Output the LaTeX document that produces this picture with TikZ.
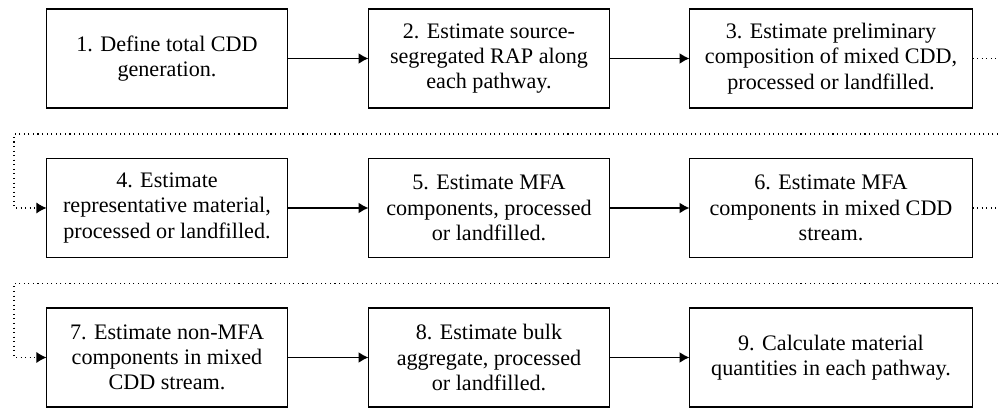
\documentclass[tikz,border=0pt]{standalone}
\usepackage{fontspec}
\setmainfont{Liberation Serif}
\usetikzlibrary{shapes,arrows.meta}
\usetikzlibrary{positioning}

\begin{document}
\begin{tikzpicture}[
    stepbox/.style={draw, line width=1pt, outer sep=0pt, minimum width=4.82cm, minimum height=1.98cm,
        align=center, inner sep=2pt, font=\fontsize{12.6}{14.4}\selectfont},
    widebox/.style={stepbox, minimum width=5.66cm},
    flow/.style={line width=0.9pt, -{Latex[length=2mm,width=2.2mm]}},
    jump/.style={line width=0.6pt, dotted}
    ]
    \useasboundingbox (0,0) rectangle (19.96,-8.18);
    % first row
    \node[stepbox, anchor=north west] (b1) at (0.93,-0.18) {1. Define total CDD\\generation.};
    \node[stepbox, right=1.62cm of b1] (b2) {2. Estimate source-\\segregated RAP along\\each pathway.};
    \node[widebox, right=1.6cm of b2] (b3) {3. Estimate preliminary\\composition of mixed CDD,\\processed or landfilled.};
    % second row
    \node[stepbox, below=1.01cm of b1] (b4) {4. Estimate\\representative material,\\processed or landfilled.};
    \node[stepbox, below=1.01cm of b2] (b5) {5. Estimate MFA\\components, processed\\or landfilled.};
    \node[widebox, below=1.01cm of b3] (b6) {6. Estimate MFA\\components in mixed CDD\\stream.};
    % third row
    \node[stepbox, below=1.01cm of b4] (b7) {7. Estimate non-MFA\\components in mixed\\CDD stream.};
    \node[stepbox, below=1.01cm of b5] (b8) {8. Estimate bulk\\aggregate, processed\\or landfilled.};
    \node[widebox, below=1.01cm of b6] (b9) {9. Calculate material\\quantities in each pathway.};

    \draw[flow] (b1) -- (b2);
    \draw[flow] (b2) -- (b3);
    \draw[flow] (b4) -- (b5);
    \draw[flow] (b5) -- (b6);
    \draw[flow] (b7) -- (b8);
    \draw[flow] (b8) -- (b9);

    % row to row returns
    \coordinate (r1) at (19.96,-2.68);
    \coordinate (l1) at (0.28,-2.68);
    \coordinate (r2) at (19.96,-5.67);
    \coordinate (l2) at (0.28,-5.67);
    \coordinate (s1) at (b3 -| r1);
    \coordinate (s2) at (b6 -| r2);
    \draw[jump] (b3) -- (s1);
    \draw[jump] (b6) -- (s2);
    \draw[jump, -{Latex[length=2mm,width=2.2mm]}] (r1) -- (l1) |- (b4);
    \draw[jump, -{Latex[length=2mm,width=2.2mm]}] (r2) -- (l2) |- (b7);
\end{tikzpicture}
\end{document}
